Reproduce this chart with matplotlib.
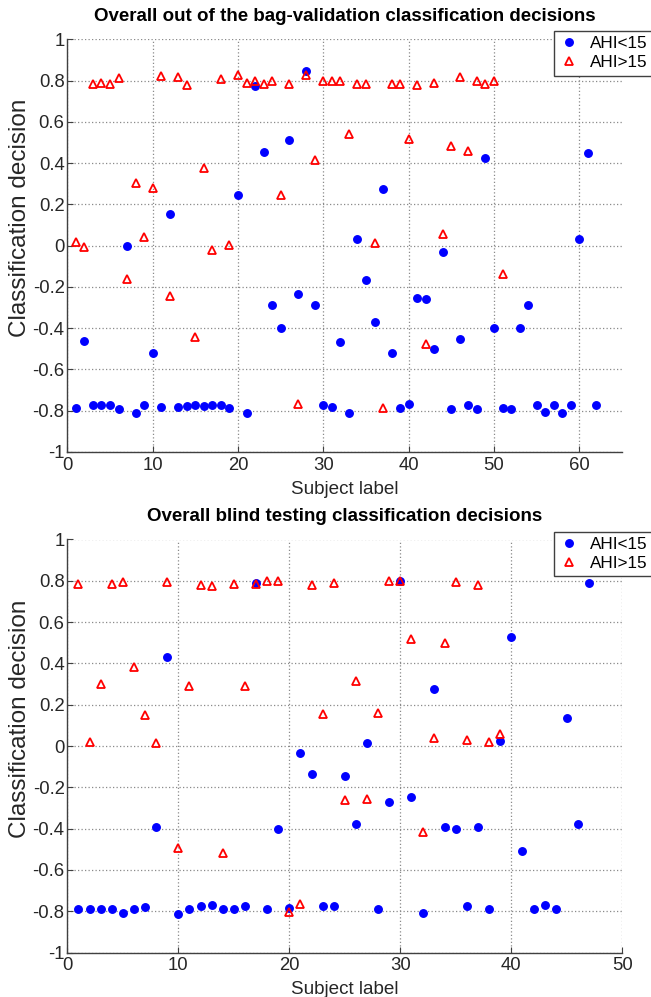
import matplotlib
matplotlib.use("Agg")
import matplotlib.pyplot as plt
import numpy as np

plt.rcParams['font.family'] = ['Liberation Sans', 'DejaVu Sans']

# ---- data: out-of-bag validation ----
top_blue = [-0.789, -0.463, -0.774, -0.774, -0.774, -0.790, -0.003, -0.813, -0.771, -0.518,
            -0.781, 0.153, -0.781, -0.779, -0.774, -0.779, -0.774, -0.771, -0.787, 0.245,
            -0.810, 0.774, 0.453, -0.287, -0.397, 0.510, -0.234, 0.848, -0.287, -0.771,
            -0.781, -0.466, -0.810, 0.034, -0.168, -0.371, 0.274, -0.518, -0.787, -0.769,
            -0.256, -0.258, -0.503, -0.029, -0.790, -0.453, -0.771, -0.790, 0.426, -0.397,
            -0.787, -0.790, -0.400, -0.290, -0.774, -0.806, -0.771, -0.813, -0.771, 0.034,
            0.450, -0.774]
top_red = [0.019, -0.008, 0.784, 0.789, 0.784, 0.811, -0.163, 0.302, 0.042, 0.277,
           0.821, -0.242, 0.818, 0.777, -0.444, 0.376, -0.019, 0.808, 0.002, 0.829,
           0.789, 0.800, 0.784, 0.800, 0.244, 0.781, -0.768, 0.827, 0.413, 0.798,
           0.798, 0.798, 0.542, 0.781, 0.781, 0.015, -0.789, 0.784, 0.781, 0.518,
           0.779, -0.476, 0.789, 0.058, 0.484, 0.819, 0.458, 0.800, 0.781, 0.797,
           -0.135]

# ---- data: blind testing ----
bot_blue = [-0.791, -0.788, -0.788, -0.791, -0.810, -0.791, -0.778, -0.391, 0.431, -0.814,
            -0.788, -0.775, -0.768, -0.788, -0.791, -0.775, 0.788, -0.791, -0.400, -0.785,
            -0.032, -0.136, -0.772, -0.772, -0.145, -0.378, 0.016, -0.791, -0.271, 0.799,
            -0.249, -0.807, 0.274, -0.391, -0.400, -0.772, -0.391, -0.791, 0.024, 0.528,
            -0.507, -0.788, -0.768, -0.791, 0.134, -0.378, 0.788]
bot_red = [0.783, 0.019, 0.302, 0.783, 0.796, 0.381, 0.149, 0.013, 0.793, -0.496,
           0.292, 0.780, 0.777, -0.518, 0.785, 0.289, 0.785, 0.799, 0.799, -0.804,
           -0.767, 0.780, 0.155, 0.789, -0.262, 0.315, -0.255, 0.161, 0.799, 0.799,
           0.518, -0.417, 0.037, 0.500, 0.796, 0.031, 0.778, 0.018, 0.058]

titles = ["Overall out of the bag-validation classification decisions",
          "Overall blind testing classification decisions"]
xlabel = "Subject label"
ylabel = "Classification decision"
legend_labels = ["AHI<15", "AHI>15"]
yticks = [-1, -0.8, -0.6, -0.4, -0.2, 0, 0.2, 0.4, 0.6, 0.8, 1]
ytick_labels = ["-1", "-0.8", "-0.6", "-0.4", "-0.2", "0", "0.2", "0.4", "0.6", "0.8", "1"]

W, H = 651, 997
fig = plt.figure(figsize=(W / 100, H / 100), dpi=100)

axes_px = [(67.3, 39.3, 622.0, 452.0), (67.3, 539.5, 622.3, 952.6)]
xmaxes = [65, 50]
xtick_sets = [list(range(0, 61, 10)), list(range(0, 51, 10))]
datasets = [(top_blue, top_red), (bot_blue, bot_red)]
legend_tops = [31, 531.5]

for i in range(2):
    l, t, r, b = axes_px[i]
    ax = fig.add_axes([l / W, 1 - b / H, (r - l) / W, (b - t) / H])
    blue, red = datasets[i]
    xb = np.arange(1, len(blue) + 1)
    xr = np.arange(1, len(red) + 1)
    hb, = ax.plot(xb, blue, linestyle='none', marker='o', markersize=5.4,
                  markerfacecolor='#0000ff', markeredgecolor='#0000ff', label=legend_labels[0])
    hr, = ax.plot(xr, red, linestyle='none', marker='^', markersize=6,
                  markerfacecolor='none', markeredgecolor='#ff0000', markeredgewidth=1.3,
                  label=legend_labels[1])
    ax.set_xlim(0, xmaxes[i])
    ax.set_ylim(-1, 1)
    ax.set_xticks(xtick_sets[i])
    ax.set_yticks(yticks)
    ax.set_yticklabels(ytick_labels)
    ax.grid(True, linestyle=(0, (1, 1.8)), color='#8a8a8a', linewidth=0.9)
    for s in ['top', 'right']:
        ax.spines[s].set_visible(False)
    for s in ['left', 'bottom']:
        ax.spines[s].set_color('#404040')
        ax.spines[s].set_linewidth(1.0)
    ax.tick_params(direction='in', length=4, labelsize=13.3, colors='#404040',
                   labelcolor='#262626')
    ax.tick_params(axis='x', pad=3.5)
    ax.tick_params(axis='y', pad=2)
    ax.set_title(titles[i], fontsize=13.5, fontweight='bold', pad=13)
    ax.set_xlabel(xlabel, fontsize=13.6, labelpad=5, color='#262626')
    ax.set_ylabel(ylabel, fontsize=17.5, color='#262626')
    ax.yaxis.set_label_coords(-0.066, 0.567)
    leg = fig.legend(handles=[hb, hr], loc='upper left',
                     bbox_to_anchor=(554 / W, 1 - legend_tops[i] / H),
                     fontsize=12.3, frameon=True, fancybox=False, framealpha=1,
                     borderpad=0.3, handlelength=1.2, handletextpad=0.6, labelspacing=0.25,
                     borderaxespad=0)
    leg.get_frame().set_edgecolor('#404040')
    leg.get_frame().set_linewidth(1.0)

fig.savefig("out.png", dpi=100)
